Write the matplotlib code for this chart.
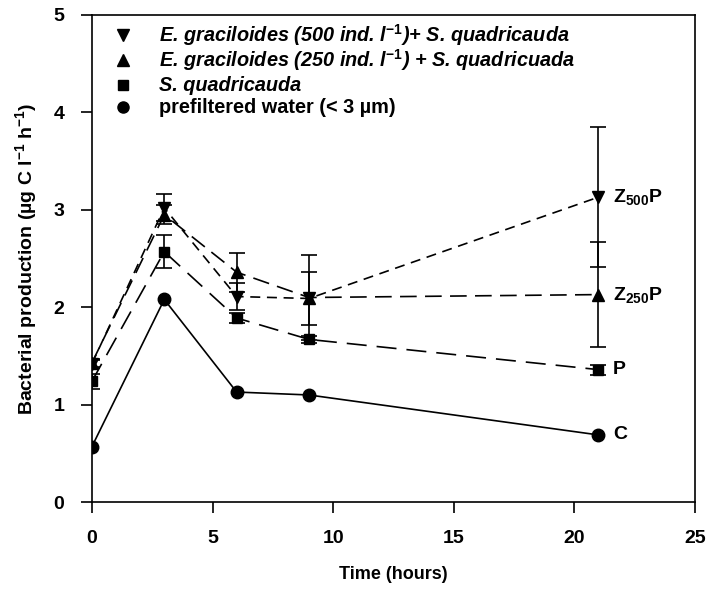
import numpy as np
import matplotlib
matplotlib.use('Agg')
from matplotlib import pyplot as plt

plt.rcParams['font.family'] = ['Liberation Sans', 'DejaVu Sans']
plt.rcParams['mathtext.fontset'] = 'custom'
plt.rcParams['mathtext.rm'] = 'Liberation Sans:bold'
plt.rcParams['mathtext.it'] = 'Liberation Sans:italic:bold'
plt.rcParams['mathtext.bf'] = 'Liberation Sans:bold'

# data
time_h = [0, 3, 6, 9, 21]

z500 = [1.42, 3.02, 2.11, 2.09, 3.13]
z500_err = [0.04, 0.14, 0.14, 0.27, 0.72]

z250 = [1.43, 2.95, 2.36, 2.10, 2.13]
z250_err = [0.04, 0.10, 0.20, 0.44, 0.54]

scen = [1.24, 2.57, 1.89, 1.67, 1.36]
scen_err = [0.08, 0.17, 0.05, 0.04, 0.05]

ctrl = [0.57, 2.08, 1.13, 1.10, 0.69]

end_labels = ['Z$_{500}$P', 'Z$_{250}$P', 'P', 'C']
legend_labels = [
    r'E. graciloides (500 ind. l$^{-1}$)+ S. quadricauda',
    r'E. graciloides (250 ind. l$^{-1}$) + S. quadricuada',
    'S. quadricauda',
    'prefiltered water (< 3 µm)',
]

fig = plt.figure(figsize=(7.07, 5.95), dpi=100)
ax = fig.add_axes([0.130, 0.156, 0.853, 0.819])

ax.errorbar(time_h, z500, yerr=z500_err, color='black', marker='v', ms=9,
            lw=1.2, dashes=(6, 4), capsize=6, elinewidth=1.2, capthick=1.2)
ax.errorbar(time_h, z250, yerr=z250_err, color='black', marker='^', ms=9,
            lw=1.2, dashes=(10, 5), capsize=6, elinewidth=1.2, capthick=1.2)
ax.errorbar(time_h, scen, yerr=scen_err, color='black', marker='s', ms=7.5,
            lw=1.2, dashes=(12, 6), capsize=6, elinewidth=1.2, capthick=1.2)
ax.plot(time_h, ctrl, color='black', marker='o', ms=9, lw=1.2)

end_vals = [z500[-1], z250[-1], scen[-1], ctrl[-1]]
for lab, v in zip(end_labels, end_vals):
    ax.text(time_h[-1] + 0.6, v, lab, fontsize=14, fontweight='bold',
            va='center', ha='left')

# legend drawn as marker + italic text
leg_markers = ['v', '^', 's', 'o']
leg_y = [4.79, 4.54, 4.28, 4.05]
for i in range(4):
    ax.plot(1.29, leg_y[i], marker=leg_markers[i], color='black',
            ms=8 if leg_markers[i] != 's' else 7)
    ax.text(2.8, leg_y[i], legend_labels[i], fontsize=14.3, fontweight='bold',
            style='italic' if i < 3 else 'normal', va='center', ha='left')

ax.set_xlim(0, 25)
ax.set_ylim(0, 5)
ax.set_xticks([0, 5, 10, 15, 20, 25])
ax.set_yticks([0, 1, 2, 3, 4, 5])
ax.tick_params(direction='out', length=8, width=1.2, labelsize=14, pad=12)
ax.tick_params(top=False, right=False)
for t in ax.get_xticklabels() + ax.get_yticklabels():
    t.set_fontweight('bold')
for s in ax.spines.values():
    s.set_linewidth(1.2)
ax.set_xlabel('Time (hours)', fontsize=13, fontweight='bold', labelpad=14)
ax.set_ylabel('Bacterial production (µg C l$^{-1}$ h$^{-1}$)', fontsize=14,
              fontweight='bold', labelpad=10)

fig.savefig('out.png', dpi=100)
